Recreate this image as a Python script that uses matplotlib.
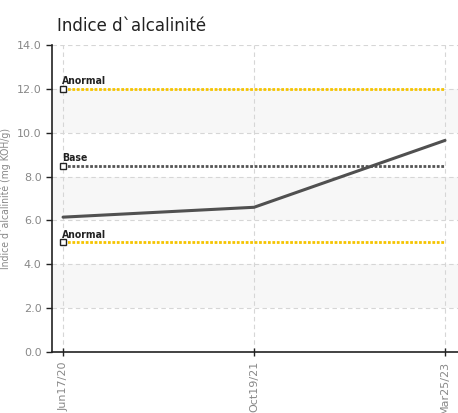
import matplotlib
matplotlib.use("Agg")
import matplotlib.pyplot as plt
import numpy as np

dates = ["Jun17/20", "Oct19/21", "Mar25/23"]
values = [6.15, 6.6, 9.65]
anormal_high = 12.0
anormal_low = 5.0
base = 8.5
yticks = [0, 2, 4, 6, 8, 10, 12, 14]

plt.rcParams['font.family'] = ['DejaVu Sans']
fig = plt.figure(figsize=(4.58, 4.13), dpi=100)
ax = fig.add_axes([0.1135, 0.1477, 0.8865, 0.7433])

x = np.arange(len(dates))
ax.set_xlim(-0.058, 2.068)
ax.set_ylim(0, 14)

# shaded bands
for lo in [2, 6, 10]:
    ax.axhspan(lo, lo + 2, color='#f7f7f7', zorder=0, lw=0)

ax.set_yticks(yticks)
ax.set_yticklabels([f"{v:.1f}" for v in yticks])
ax.set_xticks(x)
ax.set_xticklabels(dates, rotation=90)
ax.grid(True, color='#d6d6d6', linestyle=(0, (4, 3)), lw=0.8, zorder=1)

xs = [x[0], x[-1]]
ax.plot(xs, [anormal_high] * 2, color='#f5c400', lw=2.0, linestyle=(0, (1, 0.6)), zorder=3)
ax.plot(xs, [anormal_low] * 2, color='#f5c400', lw=2.0, linestyle=(0, (1, 0.6)), zorder=3)
ax.plot(xs, [base] * 2, color='#555555', lw=2.0, linestyle=(0, (1, 0.6)), zorder=3)
for yv in [anormal_high, base, anormal_low]:
    ax.plot([x[0]], [yv], marker='s', ms=4, mfc='white', mec='#222222', mew=1, zorder=5, clip_on=False)

lab_kw = dict(fontsize=7.5, color='#222222', fontstretch='condensed', fontweight='semibold', va='bottom', ha='left')
ax.text(x[0] - 0.005, anormal_high + 0.12, "Anormal", **lab_kw)
ax.text(x[0] - 0.005, base + 0.12, "Base", **lab_kw)
ax.text(x[0] - 0.005, anormal_low + 0.12, "Anormal", **lab_kw)

ax.plot(x, values, color='#505050', lw=2.2, zorder=4, solid_capstyle='round')

for s in ['top', 'right']:
    ax.spines[s].set_visible(False)
ax.spines['left'].set_color('#222222')
ax.spines['bottom'].set_color('#222222')
ax.spines['left'].set_linewidth(1.2)
ax.spines['bottom'].set_linewidth(1.2)
ax.tick_params(axis='both', colors='#222222', length=4, width=1, labelsize=8, labelcolor='#888888')
ax.tick_params(axis='x', direction='inout', length=6)

ax.set_ylabel("Indice d`alcalinité (mg KOH/g)", fontsize=7.5, color='#888888', fontstretch='condensed', labelpad=4)
fig.text(0.124, 0.925, "Indice d`alcalinité", fontsize=12, color='#222222')

fig.savefig("out.png", dpi=100)
